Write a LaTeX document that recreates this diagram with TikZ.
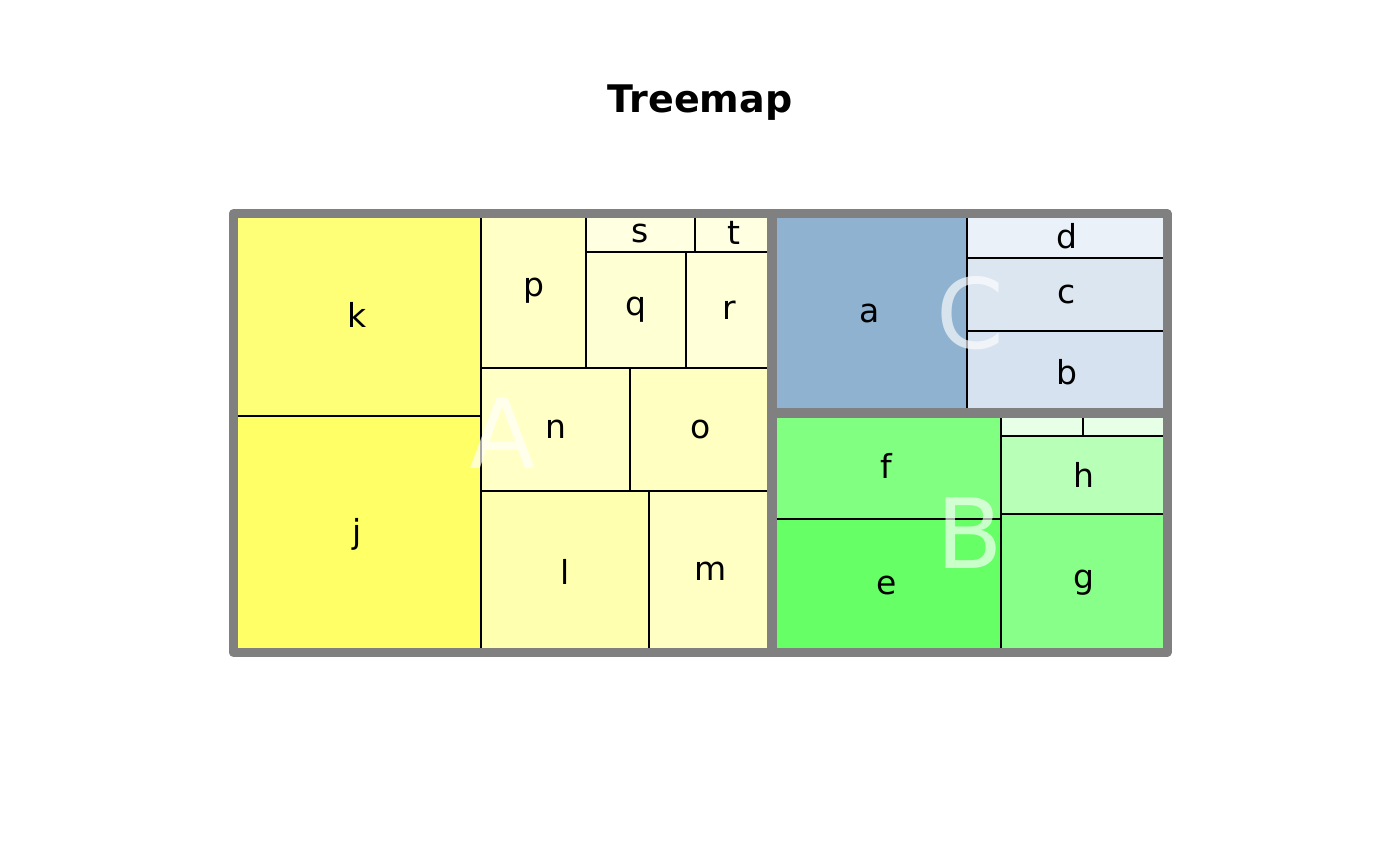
\documentclass[tikz,border=0pt]{standalone}
\usepackage{fontspec}
\setmainfont{DejaVu Sans}
\newcommand\tmlab{\fontsize{33}{39}\selectfont}
\newcommand\tmbig{\fontsize{97}{110}\selectfont}
\newcommand\tmttl{\bfseries\fontsize{38}{45}\selectfont}
\definecolor{grayb}{HTML}{808080}
\definecolor{ck}{HTML}{FFFF77}
\definecolor{cj}{HTML}{FFFF66}
\definecolor{cp}{HTML}{FFFFC6}
\definecolor{cs}{HTML}{FFFFE2}
\definecolor{ct}{HTML}{FFFFE2}
\definecolor{cq}{HTML}{FFFFD4}
\definecolor{cr}{HTML}{FFFFD8}
\definecolor{cn}{HTML}{FFFFC6}
\definecolor{co}{HTML}{FFFFC2}
\definecolor{cl}{HTML}{FFFFB0}
\definecolor{cm}{HTML}{FFFFC4}
\definecolor{ca}{HTML}{8FB2D0}
\definecolor{cd}{HTML}{EBF1F9}
\definecolor{cc}{HTML}{DCE6F1}
\definecolor{cb}{HTML}{D6E2EF}
\definecolor{cf}{HTML}{80FF80}
\definecolor{ce}{HTML}{66FF66}
\definecolor{ci}{HTML}{E6FFE6}
\definecolor{ch}{HTML}{B8FFB8}
\definecolor{cg}{HTML}{88FF88}
\begin{document}
\begin{tikzpicture}[x=1pt,y=-1pt,
  cell/.style={draw=black,line width=2pt,inner sep=0pt,outer sep=0pt,anchor=north west,font=\tmlab},
  grp/.style={draw=grayb,line width=9pt,line join=round},
  biglabel/.style={text=white,text opacity=0.65,font=\tmbig,inner sep=0pt}]
\fill[white] (0,0) rectangle (1400,866);
\useasboundingbox (0,0) rectangle (1400,866);
% group A
\node[cell,fill=ck,minimum width=248pt,minimum height=202pt] (k) at (233,214) {k};
\node[cell,fill=cj,minimum width=248pt,minimum height=236pt] (j) at (233,416) {j};
\node[cell,fill=cp,minimum width=105pt,minimum height=154pt] (p) at (481,214) {p};
\node[cell,fill=cs,minimum width=109pt,minimum height=38pt] (s) at (586,214) {s};
\node[cell,fill=ct,minimum width=77pt,minimum height=38pt] (t) at (695,214) {t};
\node[cell,fill=cq,minimum width=100pt,minimum height=116pt] (q) at (586,252) {q};
\node[cell,fill=cr,minimum width=86pt,minimum height=116pt] (r) at (686,252) {r};
\node[cell,fill=cn,minimum width=149pt,minimum height=123pt] (n) at (481,368) {n};
\node[cell,fill=co,minimum width=142pt,minimum height=123pt] (o) at (630,368) {o};
\node[cell,fill=cl,minimum width=168pt,minimum height=161pt] (l) at (481,491) {l};
\node[cell,fill=cm,minimum width=123pt,minimum height=161pt] (m) at (649,491) {m};
% group C
\node[cell,fill=ca,minimum width=195pt,minimum height=199pt] (a) at (772,214) {a};
\node[cell,fill=cd,minimum width=200pt,minimum height=44pt] (d) at (967,214) {d};
\node[cell,fill=cc,minimum width=200pt,minimum height=73pt] (c) at (967,258) {c};
\node[cell,fill=cb,minimum width=200pt,minimum height=82pt] (b) at (967,331) {b};
% group B
\node[cell,fill=cf,minimum width=229pt,minimum height=106pt] (f) at (772,413) {f};
\node[cell,fill=ce,minimum width=229pt,minimum height=133pt] (e) at (772,519) {e};
\node[cell,fill=ci,minimum width=82pt,minimum height=23pt] (i1) at (1001,413) {};
\node[cell,fill=ci,minimum width=84pt,minimum height=23pt] (i2) at (1083,413) {};
\node[cell,fill=ch,minimum width=166pt,minimum height=78pt] (h) at (1001,436) {h};
\node[cell,fill=cg,minimum width=166pt,minimum height=138pt] (g) at (1001,514) {g};
% group borders
\draw[grp] (233,213.8) rectangle (771.5,652.2);
\draw[grp] (772.5,213.8) rectangle (1167,412.2);
\draw[grp] (772.5,413.2) rectangle (1167,652.2);
% group labels
\node[biglabel] (A) at (502.5,433) {A};
\node[biglabel] (C) at (970,313) {C};
\node[biglabel] (B) at (970,533) {B};
% title
\node[font=\tmttl,anchor=base,inner sep=0pt] (title) at (700,113) {Treemap};
\end{tikzpicture}
\end{document}
